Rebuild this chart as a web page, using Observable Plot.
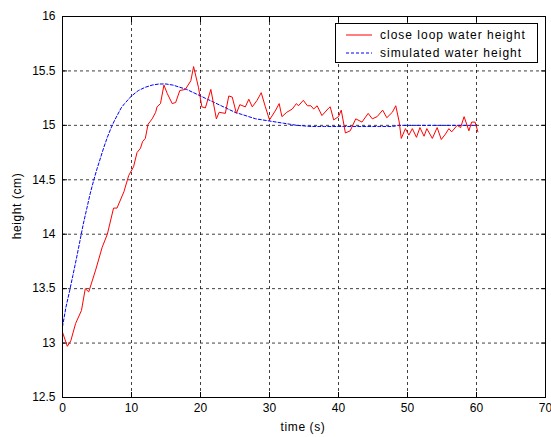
<!DOCTYPE html>
<html>
<head>
<meta charset="utf-8">
<script src="https://cdn.jsdelivr.net/npm/d3@7"></script>
<script src="https://cdn.jsdelivr.net/npm/@observablehq/plot@0.6"></script>
<style>
  html, body { margin: 0; padding: 0; background: #fff; }
  #wrap { position: relative; width: 551px; height: 437px; font-family: "Liberation Sans", Arial, sans-serif; }
  .lbl { position: absolute; font-size: 12px; color: #000; white-space: nowrap; letter-spacing: 0.6px; }
  #legend { position: absolute; left: 335px; top: 23px; width: 201px; height: 38px; border: 1px solid #000; background: #fff; font-size: 12px; letter-spacing: 1px; }
  #legend .row { position: absolute; left: 10px; height: 16px; display: flex; align-items: center; }
  #legend svg { margin-right: 8px; }
</style>
</head>
<body>
<div id="wrap"></div>
<script>
// Measured ("close loop") water height, time in s, height in cm
const closeTime = [0, 0.7, 1.2, 1.9, 2.75, 3.3, 3.8, 4.8, 5.75, 6.5, 7.4, 7.9, 8.9, 9.6, 10.3, 10.8, 11.3, 11.6, 12.0, 12.4, 13.0, 13.5, 13.7, 14.2, 14.7, 15.2, 15.9, 16.4, 17.0, 17.8, 18.6, 19.0, 19.7, 20.2, 20.7, 21.5, 22.3, 22.7, 23.6, 24.1, 24.6, 25.2, 25.7, 26.5, 27.0, 27.5, 28.2, 28.8, 29.4, 30.0, 30.9, 31.4, 31.8, 32.5, 33.3, 33.9, 34.2, 34.9, 35.5, 36.0, 36.4, 36.9, 37.6, 38.6, 38.8, 39.3, 40.0, 40.4, 41.0, 41.7, 42.5, 43.4, 44.3, 44.9, 45.6, 46.4, 47.0, 47.8, 48.3, 48.8, 49.1, 49.7, 50.2, 50.7, 51.3, 51.8, 52.4, 52.8, 53.6, 54.3, 54.9, 55.5, 56.0, 56.4, 57.2, 57.7, 58.2, 58.9, 59.3, 59.8, 60.2];
const closeHeight = [13.10, 12.97, 13.02, 13.18, 13.30, 13.50, 13.47, 13.67, 13.88, 14.00, 14.24, 14.24, 14.39, 14.54, 14.62, 14.75, 14.79, 14.85, 14.88, 15.01, 15.06, 15.12, 15.17, 15.20, 15.37, 15.29, 15.20, 15.21, 15.32, 15.33, 15.41, 15.54, 15.35, 15.17, 15.16, 15.33, 15.06, 15.12, 15.11, 15.27, 15.26, 15.11, 15.19, 15.17, 15.24, 15.17, 15.23, 15.30, 15.17, 15.05, 15.14, 15.20, 15.08, 15.12, 15.15, 15.20, 15.18, 15.23, 15.18, 15.18, 15.15, 15.18, 15.09, 15.16, 15.17, 15.05, 15.08, 15.14, 14.93, 14.95, 15.06, 15.03, 15.11, 15.06, 15.08, 15.14, 15.07, 15.12, 15.18, 15.03, 14.88, 14.97, 14.91, 14.97, 14.89, 14.98, 14.90, 14.97, 14.88, 14.98, 14.87, 14.92, 14.97, 14.94, 15.00, 14.98, 15.08, 14.95, 15.03, 15.03, 14.94];

// Simulated water height
const simTime = [0, 0.5, 1, 1.5, 2, 2.5, 3, 3.5, 4, 4.5, 5, 5.5, 6, 6.5, 7, 7.5, 8, 8.5, 9, 10, 11, 12, 13, 14, 15, 16, 17, 18, 19, 20, 21, 22, 23, 24, 25, 26, 27, 28, 29, 30, 31, 32, 33, 34, 35, 36, 38, 40, 42, 44, 46, 48, 48.5, 50, 52, 54, 56, 58, 60];
const simHeight = [13.15, 13.33, 13.47, 13.62, 13.77, 13.93, 14.09, 14.23, 14.37, 14.49, 14.60, 14.70, 14.80, 14.89, 14.97, 15.04, 15.10, 15.16, 15.20, 15.27, 15.32, 15.35, 15.37, 15.38, 15.38, 15.37, 15.35, 15.33, 15.30, 15.27, 15.24, 15.21, 15.18, 15.15, 15.12, 15.10, 15.08, 15.06, 15.05, 15.04, 15.03, 15.02, 15.01, 15.00, 14.995, 14.99, 14.99, 14.99, 14.99, 14.99, 14.99, 14.99, 15.0, 15.0, 15.0, 15.0, 15.0, 15.0, 15.0];

const xTicks = [0, 10, 20, 30, 40, 50, 60, 70];
const yTicks = [12.5, 13, 13.5, 14, 14.5, 15, 15.5, 16];
const seriesNames = ["close loop water height", "simulated water height"];

const closeData = closeTime.map((t, i) => ({t, h: closeHeight[i]}));
const simData = simTime.map((t, i) => ({t, h: simHeight[i]}));

const gridStyle = {stroke: "#000", strokeOpacity: 0.75, strokeDasharray: "3,3"};

const chart = Plot.plot({
  width: 551,
  height: 437,
  marginLeft: 62,
  marginRight: 6,
  marginTop: 16,
  marginBottom: 40,
  style: {background: "#fff", fontFamily: "Liberation Sans, Arial, sans-serif", fontSize: "12px", color: "#000"},
  x: {domain: [0, 70], ticks: xTicks, label: null},
  y: {domain: [12.5, 16], ticks: yTicks, label: null},
  marks: [
    Plot.gridX(xTicks.slice(1, -1), gridStyle),
    Plot.gridY(yTicks.slice(1, -1), gridStyle),
    Plot.axisX(xTicks, {anchor: "bottom", tickSize: 0, tickPadding: 6, tickFormat: d => String(d), fontSize: 12, label: null}),
    Plot.axisY(yTicks, {anchor: "left", tickSize: 0, tickPadding: 7, tickFormat: d => String(d), fontSize: 12, label: null}),
    Plot.axisX(xTicks, {anchor: "bottom", tickSize: -5, tickFormat: () => "", label: null}),
    Plot.axisX(xTicks, {anchor: "top", tickSize: -5, tickFormat: () => "", label: null}),
    Plot.axisY(yTicks, {anchor: "left", tickSize: -5, tickFormat: () => "", label: null}),
    Plot.axisY(yTicks, {anchor: "right", tickSize: -5, tickFormat: () => "", label: null}),
    Plot.line(simData, {x: "t", y: "h", stroke: "#0000ff", strokeWidth: 1, strokeDasharray: "3,2"}),
    Plot.line(closeData, {x: "t", y: "h", stroke: "#ff0000", strokeWidth: 1}),
    Plot.frame({stroke: "#000", strokeWidth: 1})
  ]
});

const wrap = document.getElementById("wrap");
wrap.appendChild(chart);

const xl = document.createElement("div");
xl.className = "lbl";
xl.textContent = "time (s)";
xl.style.left = "303px"; xl.style.top = "420px"; xl.style.transform = "translateX(-50%)";
wrap.appendChild(xl);

const yl = document.createElement("div");
yl.className = "lbl";
yl.textContent = "height (cm)";
yl.style.left = "17px"; yl.style.top = "206px"; yl.style.transform = "translate(-50%, -50%) rotate(-90deg)";
wrap.appendChild(yl);

const legend = document.createElement("div");
legend.id = "legend";
const colors = ["#ff0000", "#0000ff"];
const dashes = ["none", "3,2"];
seriesNames.forEach((name, i) => {
  const row = document.createElement("div");
  row.className = "row";
  row.style.top = (3 + i * 18) + "px";
  row.innerHTML = `<svg width="26" height="4"><line x1="0" x2="26" y1="2" y2="2" stroke="${colors[i]}" stroke-width="1" stroke-dasharray="${dashes[i]}"/></svg><span>${name}</span>`;
  legend.appendChild(row);
});
wrap.appendChild(legend);
</script>
</body>
</html>
